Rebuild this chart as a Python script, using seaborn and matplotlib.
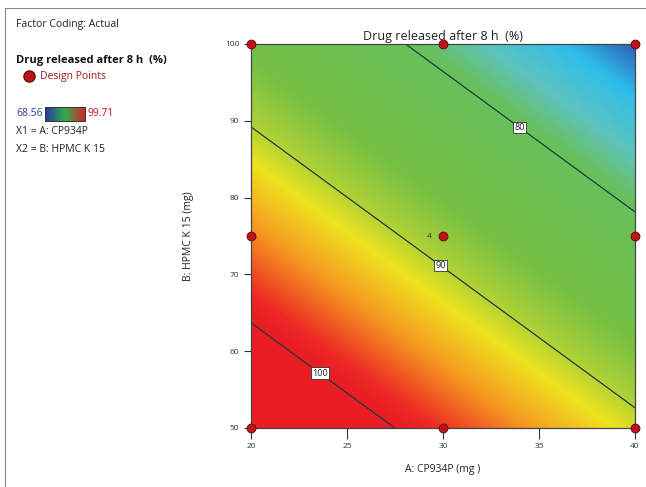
import numpy as np
import pandas as pd
import matplotlib
matplotlib.use("Agg")
import matplotlib.pyplot as plt
from matplotlib.colors import LinearSegmentedColormap, Normalize
import seaborn as sns

# ---- data ----
title = "Drug released after 8 h  (%)"
x_label = "A: CP934P (mg )"
y_label = "B: HPMC K 15 (mg)"
design_A = [20, 30, 40, 20, 30, 40, 20, 30, 40]
design_B = [50, 50, 50, 75, 75, 75, 100, 100, 100]
center_reps = 4
resp_min, resp_max = 68.56, 99.71
# linear model in coded factors: R = b0 + b1*x1 + b2*x2
b0, b1, b2 = 88.4, -7.17, -9.8
contour_levels = [80, 90, 100]
x_ticks = [20, 25, 30, 35, 40]
y_ticks = [50, 60, 70, 80, 90, 100]

sns.set_theme(style="white")
plt.rcParams['font.family'] = ['Open Sans', 'DejaVu Sans']

fig = plt.figure(figsize=(6.46, 4.87), dpi=100)
ax = fig.add_axes([251/646, 1-428/487, (635-251)/646, (428-44)/487])

A = np.linspace(20, 40, 201)
B = np.linspace(50, 100, 201)
AA, BB = np.meshgrid(A, B)
x1 = (AA - 30) / 10
x2 = (BB - 75) / 25
R = b0 + b1 * x1 + b2 * x2

stops = [(68.56, "#2a3f9c"), (71.5, "#2f64b8"), (74.0, "#2dbdec"), (77.0, "#5ec3c0"),
         (79.5, "#68bf5c"), (86.5, "#74bf44"), (89.5, "#a9cf38"), (91.8, "#eee41f"),
         (95.0, "#f59a20"), (98.5, "#ec2a24"), (99.71, "#ea1c24")]
cmap = LinearSegmentedColormap.from_list(
    "de", [((v - resp_min) / (resp_max - resp_min), c) for v, c in stops])
norm = Normalize(vmin=resp_min, vmax=resp_max, clip=True)

ax.pcolormesh(AA, BB, R, cmap=cmap, norm=norm, shading="gouraud", rasterized=True)
cs = ax.contour(AA, BB, R, levels=contour_levels, colors="#1d3b3b", linewidths=0.9)
lbls = ax.clabel(cs, fmt="%d", fontsize=6.5, inline=False,
                 manual=[(34.2, 89.8), (30.0, 71.6), (23.7, 57.5)])
for t in lbls:
    t.set_rotation(0)
    t.set_bbox(dict(boxstyle="square,pad=0.15", fc="white", ec="#333333", lw=0.6))
    t.set_color("#222222")

df = pd.DataFrame({"A": design_A, "B": design_B})
sns.scatterplot(data=df, x="A", y="B", ax=ax, s=40, color="#c0141c",
                edgecolor="#6a0a0a", linewidth=0.7, clip_on=False, zorder=5, legend=False)
ax.text(29.4, 75, str(center_reps), fontsize=6, ha="right", va="center", color="#333333")

ax.set_xlim(20, 40)
ax.set_ylim(50, 100)
ax.set_xticks(x_ticks)
ax.set_yticks(y_ticks)
ax.tick_params(axis="both", direction="out", length=5, width=0.8, labelsize=6,
               colors="#333333", bottom=True, left=True)
ax.tick_params(axis="x", length=8, pad=3)
for s in ax.spines.values():
    s.set_color("#444444")
    s.set_linewidth(0.9)
ax.set_xlabel(x_label, fontsize=7.5, labelpad=10, color="#222222")
ax.set_ylabel(y_label, fontsize=7.5, labelpad=22, color="#222222")
ax.set_title(title, fontsize=9, pad=3, color="#222222")

# left info panel
fig.text(16/646, 1-25/487, "Factor Coding: Actual", fontsize=7.5, va="center", color="#222222")
fig.text(16/646, 1-60/487, title, fontsize=8, fontweight="bold", va="center", color="#111111")
fig.add_artist(plt.Line2D([29/646], [1-76/487], marker="o", markersize=8,
                          markerfacecolor="#c0141c", markeredgecolor="#6a0a0a",
                          transform=fig.transFigure))
fig.text(40/646, 1-76/487, "Design Points", fontsize=7.5, va="center", color="#9b1b1e")
fig.text(16/646, 1-114/487, f"{resp_min:.2f}", fontsize=7.5, va="center", color="#2b3a9a")
fig.text(88/646, 1-114/487, f"{resp_max:.2f}", fontsize=7.5, va="center", color="#c0141c")
legend_cmap = LinearSegmentedColormap.from_list("leg", ["#2536a8", "#2fae4a", "#d8232a"])
cax = fig.add_axes([45/646, 1-121/487, 40/646, 14/487])
cax.imshow(np.linspace(0, 1, 100)[None, :], aspect="auto", cmap=legend_cmap)
cax.set_xticks([]); cax.set_yticks([])
for s in cax.spines.values():
    s.set_color("#333333"); s.set_linewidth(0.7)
fig.text(16/646, 1-131/487, "X1 = A: CP934P", fontsize=7.5, va="center", color="#222222")
fig.text(16/646, 1-150/487, "X2 = B: HPMC K 15", fontsize=7.5, va="center", color="#222222")

# outer frame lines
fig.add_artist(plt.Line2D([5/646, 5/646], [0, 1-8/487], color="#888888", lw=0.8,
                          transform=fig.transFigure))
fig.add_artist(plt.Line2D([5/646, 1], [1-8/487, 1-8/487], color="#888888", lw=0.8,
                          transform=fig.transFigure))

fig.savefig("out.png", dpi=100)
